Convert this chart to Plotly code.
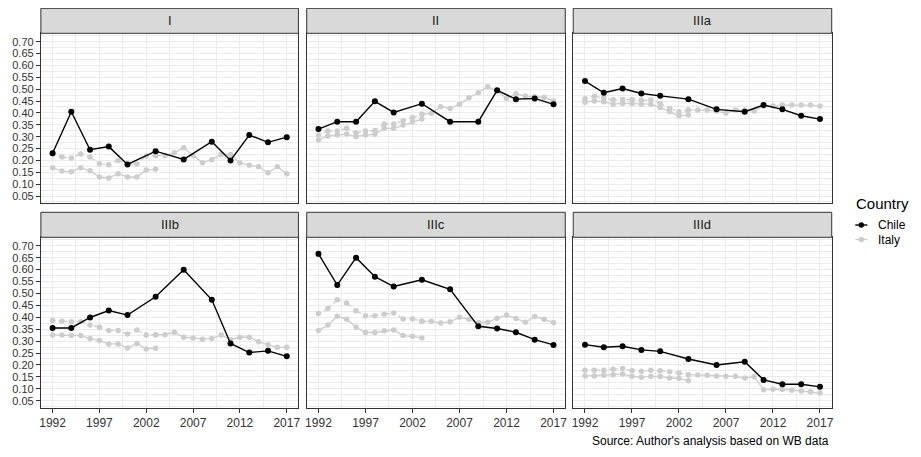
import plotly.graph_objects as go

# ---------------- data ----------------
panels = ["I", "II", "IIIa", "IIIb", "IIIc", "IIId"]
chile_years = [1992, 1994, 1996, 1998, 2000, 2003, 2006, 2009, 2011, 2013, 2015, 2017]
italy_years = list(range(1992, 2018))          # annual series
italy_years_b = list(range(1992, 2004))        # second (short) series

chile_I    = [0.230, 0.405, 0.245, 0.258, 0.183, 0.239, 0.204, 0.279, 0.200, 0.307, 0.276, 0.298]
chile_II   = [0.332, 0.363, 0.363, 0.449, 0.402, 0.439, 0.363, 0.363, 0.495, 0.458, 0.461, 0.436]
chile_IIIa = [0.534, 0.485, 0.503, 0.482, 0.472, 0.458, 0.415, 0.405, 0.433, 0.415, 0.388, 0.374]
chile_IIIb = [0.355, 0.355, 0.399, 0.428, 0.409, 0.486, 0.599, 0.473, 0.290, 0.252, 0.259, 0.236]
chile_IIIc = [0.666, 0.535, 0.650, 0.570, 0.529, 0.557, 0.517, 0.362, 0.353, 0.337, 0.306, 0.284]
chile_IIId = [0.285, 0.274, 0.278, 0.263, 0.257, 0.225, 0.200, 0.213, 0.137, 0.119, 0.119, 0.108]

italy_I    = [0.227, 0.214, 0.210, 0.227, 0.214, 0.186, 0.182, 0.200, 0.185, 0.185, 0.218, 0.221,
              0.221, 0.232, 0.253, 0.221, 0.190, 0.203, 0.225, 0.225, 0.190, 0.180, 0.173, 0.148, 0.173, 0.144]
italy_II   = [0.307, 0.324, 0.324, 0.335, 0.315, 0.324, 0.326, 0.353, 0.353, 0.367, 0.381, 0.394,
              0.398, 0.426, 0.419, 0.436, 0.464, 0.485, 0.510, 0.492, 0.461, 0.481, 0.471, 0.468, 0.465, 0.450]
italy_IIIa = [0.460, 0.470, 0.463, 0.455, 0.457, 0.457, 0.454, 0.454, 0.440, 0.419, 0.405, 0.412,
              0.412, 0.412, 0.408, 0.400, 0.412, 0.412, 0.408, 0.429, 0.429, 0.433, 0.433, 0.433, 0.433, 0.429]
italy_IIIb = [0.386, 0.383, 0.381, 0.381, 0.367, 0.358, 0.344, 0.344, 0.330, 0.347, 0.325, 0.327,
              0.327, 0.337, 0.316, 0.313, 0.308, 0.311, 0.325, 0.306, 0.316, 0.316, 0.297, 0.285, 0.274, 0.274]
italy_IIIc = [0.416, 0.437, 0.473, 0.460, 0.427, 0.406, 0.406, 0.413, 0.418, 0.393, 0.393, 0.383,
              0.383, 0.376, 0.381, 0.400, 0.392, 0.378, 0.379, 0.396, 0.409, 0.395, 0.379, 0.403, 0.392, 0.378]
italy_IIId = [0.178, 0.178, 0.178, 0.182, 0.185, 0.176, 0.173, 0.178, 0.176, 0.171, 0.166, 0.159,
              0.158, 0.157, 0.154, 0.152, 0.152, 0.145, 0.150, 0.096, 0.098, 0.098, 0.094, 0.091, 0.087, 0.082]

italyb_I    = [0.169, 0.155, 0.152, 0.169, 0.156, 0.130, 0.126, 0.144, 0.130, 0.130, 0.159, 0.163]
italyb_II   = [0.286, 0.303, 0.307, 0.311, 0.300, 0.307, 0.310, 0.335, 0.335, 0.349, 0.363, 0.374]
italyb_IIIa = [0.445, 0.450, 0.447, 0.437, 0.440, 0.440, 0.437, 0.437, 0.423, 0.405, 0.388, 0.391]
italyb_IIIb = [0.326, 0.326, 0.323, 0.323, 0.311, 0.302, 0.288, 0.288, 0.271, 0.290, 0.267, 0.270]
italyb_IIIc = [0.344, 0.367, 0.404, 0.392, 0.358, 0.336, 0.336, 0.343, 0.347, 0.323, 0.320, 0.313]
italyb_IIId = [0.154, 0.154, 0.157, 0.159, 0.162, 0.152, 0.148, 0.152, 0.151, 0.145, 0.143, 0.134]

chile = [chile_I, chile_II, chile_IIIa, chile_IIIb, chile_IIIc, chile_IIId]
italy = [italy_I, italy_II, italy_IIIa, italy_IIIb, italy_IIIc, italy_IIId]
italyb = [italyb_I, italyb_II, italyb_IIIa, italyb_IIIb, italyb_IIIc, italyb_IIId]

y_ticks = [round(0.05 * i, 2) for i in range(1, 15)]
x_ticks = [1992, 1997, 2002, 2007, 2012, 2017]
legend_labels = ["Chile", "Italy"]

# ---------------- layout geometry (pixels in the target picture) ----------------
W, H = 921, 457
OFF = 8  # the page body has an 8px default margin; compensate
cols = [(39, 297.7), (306, 565.7), (573.7, 833.3)]
rows = [(33.3, 203), (237.3, 407.7)]
strips = [(8.3, 33.3), (212.3, 237.3)]

def px(x):
    return (x - OFF) / W

def py(y):
    return 1 - (y - OFF) / H

FONT = "Liberation Sans, Arial, sans-serif"
CHILE_COL = "#000000"
ITALY_COL = "#cdcdcd"
BORDER = "#333333"
GRID = "#ebebeb"

fig = go.Figure()
layout = {}
shapes = []
annotations = []

for k, name in enumerate(panels):
    r, c = divmod(k, 3)
    idx = "" if k == 0 else str(k + 1)
    xa, ya = "x" + idx, "y" + idx
    split = italy_years.index(2003)
    fig.add_trace(go.Scatter(
        x=italy_years_b, y=italyb[k], xaxis=xa, yaxis=ya, mode="lines+markers",
        line=dict(color=ITALY_COL, width=1.3), marker=dict(color=ITALY_COL, size=5.5),
        name="Italy", showlegend=False, hoverinfo="skip"))
    fig.add_trace(go.Scatter(
        x=italy_years[:split + 1], y=italy[k][:split + 1], xaxis=xa, yaxis=ya, mode="lines+markers",
        line=dict(color=ITALY_COL, width=1.3, dash="dot"), marker=dict(color=ITALY_COL, size=5.5),
        name="Italy", showlegend=False, hoverinfo="skip"))
    fig.add_trace(go.Scatter(
        x=italy_years[split:], y=italy[k][split:], xaxis=xa, yaxis=ya, mode="lines+markers",
        line=dict(color=ITALY_COL, width=1.3), marker=dict(color=ITALY_COL, size=5.5),
        name="Italy", showlegend=False, hoverinfo="skip"))
    fig.add_trace(go.Scatter(
        x=chile_years, y=chile[k], xaxis=xa, yaxis=ya, mode="lines+markers",
        line=dict(color=CHILE_COL, width=1.4), marker=dict(color=CHILE_COL, size=6),
        name="Chile", showlegend=False))

    bottom = (r == 1)
    left = (c == 0)
    layout["xaxis" + idx] = dict(
        domain=[px(cols[c][0]), px(cols[c][1])], anchor=ya,
        range=[1990.75, 2018.25], tickvals=x_ticks, showticklabels=bottom,
        ticks="outside" if bottom else "", ticklen=4, tickcolor=BORDER, tickwidth=1,
        showgrid=True, gridcolor=GRID, gridwidth=1.1,
        minor=dict(tickvals=[1994.5, 1999.5, 2004.5, 2009.5, 2014.5], showgrid=True,
                   gridcolor=GRID, gridwidth=0.6, ticks=""),
        showline=True, mirror=True, linecolor=BORDER, linewidth=1,
        zeroline=False, tickfont=dict(family=FONT, size=12, color="#333333"))
    layout["yaxis" + idx] = dict(
        domain=[py(rows[r][1]), py(rows[r][0])], anchor=xa,
        range=[0.0205, 0.7354], tickvals=y_ticks, ticktext=[f"{v:.2f}" for v in y_ticks],
        showticklabels=left, ticks="outside" if left else "", ticklen=4, tickcolor=BORDER,
        tickwidth=1, showgrid=True, gridcolor=GRID, gridwidth=1.1,
        minor=dict(tickvals=[round(0.025 + 0.05 * i, 3) for i in range(0, 15)], showgrid=True,
                   gridcolor=GRID, gridwidth=0.6, ticks=""),
        showline=True, mirror=True, linecolor=BORDER, linewidth=1,
        zeroline=False, tickfont=dict(family=FONT, size=11, color="#333333"))

    shapes.append(dict(type="rect", xref="paper", yref="paper",
                       x0=px(cols[c][0]), x1=px(cols[c][1]),
                       y0=py(strips[r][1]), y1=py(strips[r][0]),
                       fillcolor="#d9d9d9", line=dict(color=BORDER, width=1), layer="above"))
    annotations.append(dict(text=name, xref="paper", yref="paper",
                            x=px((cols[c][0] + cols[c][1]) / 2), y=py((strips[r][0] + strips[r][1]) / 2),
                            showarrow=False, xanchor="center", yanchor="middle",
                            font=dict(family=FONT, size=13, color="#1a1a1a")))

# ---------------- legend (drawn by hand, ggplot style) ----------------
annotations.append(dict(text="Country", xref="paper", yref="paper", x=px(856), y=py(203),
                        xanchor="left", yanchor="middle", showarrow=False,
                        font=dict(family=FONT, size=15, color="#000000")))
for i, (lab, col) in enumerate(zip(legend_labels, [CHILE_COL, ITALY_COL])):
    yc = 225 + i * 14.5
    shapes.append(dict(type="line", xref="paper", yref="paper", x0=px(857), x1=px(869),
                       y0=py(yc), y1=py(yc), line=dict(color=col, width=1.4)))
    shapes.append(dict(type="circle", xref="paper", yref="paper", x0=px(860.3), x1=px(865.7),
                       y0=py(yc + 2.7), y1=py(yc - 2.7), fillcolor=col, line=dict(width=0)))
    annotations.append(dict(text=lab, xref="paper", yref="paper", x=px(878), y=py(yc),
                            xanchor="left", yanchor="middle", showarrow=False,
                            font=dict(family=FONT, size=12, color="#000000")))

annotations.append(dict(text="Source: Author's analysis based on WB data", xref="paper", yref="paper",
                        x=px(833), y=py(441), xanchor="right", yanchor="middle", showarrow=False,
                        font=dict(family=FONT, size=12, color="#000000")))

fig.update_layout(
    width=W, height=H, margin=dict(l=0, r=0, t=0, b=0),
    paper_bgcolor="white", plot_bgcolor="white", showlegend=False,
    shapes=shapes, annotations=annotations, **layout)

fig.write_html("out.html")
